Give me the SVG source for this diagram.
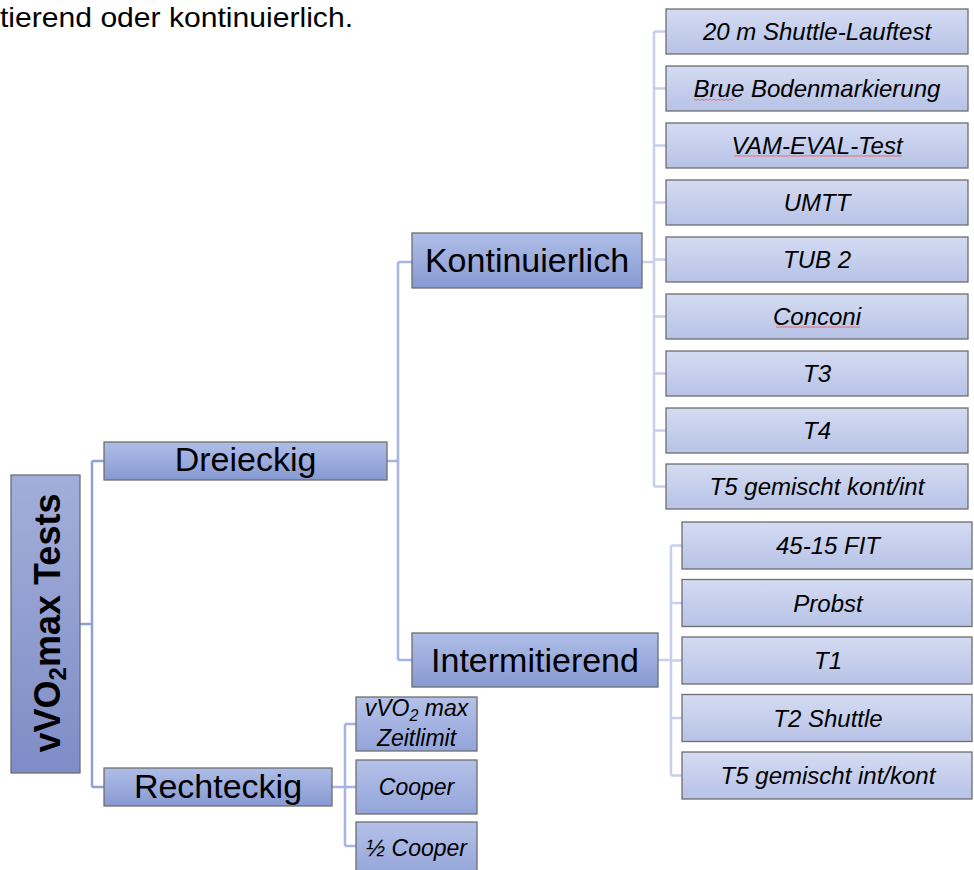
<svg xmlns="http://www.w3.org/2000/svg" width="974" height="870" viewBox="0 0 974 870">
<defs>
<linearGradient id="gRoot" x1="0" y1="0" x2="0" y2="1"><stop offset="0" stop-color="#a3aed9"/><stop offset="1" stop-color="#7e8dc7"/></linearGradient>
<linearGradient id="gMid" x1="0" y1="0" x2="0" y2="1"><stop offset="0" stop-color="#afbee7"/><stop offset="1" stop-color="#8799d2"/></linearGradient>
<linearGradient id="gRect" x1="0" y1="0" x2="0" y2="1"><stop offset="0" stop-color="#b4c1e8"/><stop offset="1" stop-color="#93a4d9"/></linearGradient>
<linearGradient id="gLeaf" x1="0" y1="0" x2="0" y2="1"><stop offset="0" stop-color="#d4dbf2"/><stop offset="1" stop-color="#b7c2e6"/></linearGradient>
</defs>
<style>
.box{stroke:#6e6e6e;stroke-width:1.3}
.root{fill:url(#gRoot)}
.mid{fill:url(#gMid)}
.rc{fill:url(#gRect)}
.leaf{fill:url(#gLeaf)}
.t{font-family:"Liberation Sans",Arial,sans-serif;fill:#000;text-anchor:middle}
.lt{font-size:34px}
.it{font-size:24px;font-style:italic}
.rt{font-size:23px;font-style:italic}
.c1{fill:none;stroke:#8ea2d8;stroke-width:2.5}
.c2{fill:none;stroke:#a6b5e2;stroke-width:2.5}
.c3{fill:none;stroke:#c7cfec;stroke-width:2.5}
.sp{fill:none;stroke:#e06a6a;stroke-width:0.9}
</style>
<text x="0" y="27" textLength="353" lengthAdjust="spacingAndGlyphs" style="font-family:'Liberation Sans',Arial,sans-serif;font-size:28px;fill:#000">tierend oder kontinuierlich.</text>
<g id="connectors">
<path class="c1" d="M80,624 H92 M92,461 V787 M92,461 H104 M92,787 H104"/>
<path class="c2" d="M387,461 H398 M398,262 V660 M398,262 H412 M398,660 H412"/>
<path class="c2" d="M332,787 H345 M345,724 V846 M345,724 H356 M345,787 H356 M345,846 H356"/>
<path class="c3" d="M642,262 H654 M654,31.5 V486.5 M654,31.5 H666 M654,88.5 H666 M654,145.5 H666 M654,202.5 H666 M654,259.5 H666 M654,316.5 H666 M654,373.5 H666 M654,430.5 H666 M654,486.5 H666"/>
<path class="c3" d="M658,660 H671 M671,545.5 V775.5 M671,545.5 H682 M671,603 H682 M671,660.5 H682 M671,718 H682 M671,775.5 H682"/>
</g>
<g id="root"><rect class="box root" x="11" y="475" width="69" height="298"/>
<text class="t" transform="translate(60,623) rotate(-90)" style="font-size:36px;font-weight:bold">vVO<tspan dy="6" font-size="24">2</tspan><tspan dy="-6">max Tests</tspan></text></g>
<g id="dreieckig"><rect class="box mid" x="104" y="442" width="283" height="38"/><text class="t lt" x="245.5" y="471">Dreieckig</text></g>
<g id="rechteckig"><rect class="box mid" x="104" y="768" width="228" height="38"/><text class="t lt" x="218" y="798">Rechteckig</text></g>
<g id="kontinuierlich"><rect class="box mid" x="412" y="233" width="230" height="55"/><text class="t lt" x="527" y="272">Kontinuierlich</text></g>
<g id="intermitierend"><rect class="box mid" x="412" y="633" width="246" height="54"/><text class="t lt" x="535" y="672">Intermitierend</text></g>
<g id="k1"><rect class="box leaf" x="666" y="9" width="302" height="45"/><text class="t it" x="817" y="40">20 m Shuttle-Lauftest</text></g>
<g id="k2"><rect class="box leaf" x="666" y="66" width="302" height="45"/><text class="t it" x="817" y="97">Brue Bodenmarkierung</text><path class="sp" d="M694,99 l2,1.5 l2,-1.5 l2,1.5 l2,-1.5 l2,1.5 l2,-1.5 l2,1.5 l2,-1.5 l2,1.5 l2,-1.5 l2,1.5 l2,-1.5 l2,1.5 l2,-1.5 l2,1.5 l2,-1.5 l2,1.5 l2,-1.5 l2,1.5 l2,-1.5"/></g>
<g id="k3"><rect class="box leaf" x="666" y="123" width="302" height="45"/><text class="t it" x="817" y="154">VAM-EVAL-Test</text><path class="sp" d="M734,156 h168"/></g>
<g id="k4"><rect class="box leaf" x="666" y="180" width="302" height="45"/><text class="t it" x="817" y="211">UMTT</text></g>
<g id="k5"><rect class="box leaf" x="666" y="237" width="302" height="45"/><text class="t it" x="817" y="268">TUB 2</text></g>
<g id="k6"><rect class="box leaf" x="666" y="294" width="302" height="45"/><text class="t it" x="817" y="325">Conconi</text><path class="sp" d="M776,327 h84"/></g>
<g id="k7"><rect class="box leaf" x="666" y="351" width="302" height="45"/><text class="t it" x="817" y="382">T3</text></g>
<g id="k8"><rect class="box leaf" x="666" y="408" width="302" height="45"/><text class="t it" x="817" y="439">T4</text></g>
<g id="k9"><rect class="box leaf" x="666" y="464" width="302" height="45"/><text class="t it" x="817" y="495">T5 gemischt kont/int</text></g>
<g id="i1"><rect class="box leaf" x="682" y="522" width="290" height="47"/><text class="t it" x="828" y="554">45-15 FIT</text></g>
<g id="i2"><rect class="box leaf" x="682" y="579.5" width="290" height="47"/><text class="t it" x="828" y="611.5">Probst</text></g>
<g id="i3"><rect class="box leaf" x="682" y="637" width="290" height="47"/><text class="t it" x="828" y="669">T1</text></g>
<g id="i4"><rect class="box leaf" x="682" y="694.5" width="290" height="47"/><text class="t it" x="828" y="726.5">T2 Shuttle</text></g>
<g id="i5"><rect class="box leaf" x="682" y="752" width="290" height="47"/><text class="t it" x="828" y="784">T5 gemischt int/kont</text></g>
<g id="r1"><rect class="box rc" x="356" y="697" width="121" height="54"/><text class="t rt" x="416.5" y="716">vVO<tspan dy="5" font-size="16">2</tspan><tspan dy="-5"> max</tspan></text><text class="t rt" x="416.5" y="746">Zeitlimit</text></g>
<g id="r2"><rect class="box rc" x="356" y="760" width="121" height="54"/><text class="t rt" x="416.5" y="795">Cooper</text></g>
<g id="r3"><rect class="box rc" x="356" y="822" width="121" height="54"/><text class="t rt" x="416.5" y="856">½ Cooper</text></g>
</svg>
